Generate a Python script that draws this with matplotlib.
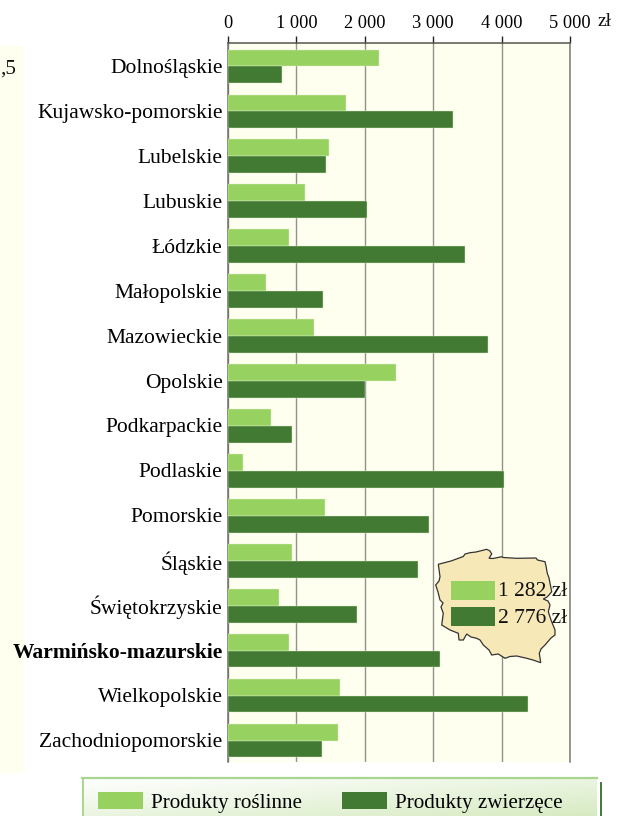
import numpy as np
import matplotlib
matplotlib.use("Agg")
import matplotlib.pyplot as plt
from matplotlib.patches import Polygon, Rectangle

W, H = 621, 816
plt.rcParams['font.family'] = ['Liberation Serif', 'DejaVu Serif']

regions = ["Dolnośląskie", "Kujawsko-pomorskie", "Lubelskie", "Lubuskie", "Łódzkie",
           "Małopolskie", "Mazowieckie", "Opolskie", "Podkarpackie", "Podlaskie",
           "Pomorskie", "Śląskie", "Świętokrzyskie", "Warmińsko-mazurskie",
           "Wielkopolskie", "Zachodniopomorskie"]
plant = [2207, 1725, 1477, 1126, 892, 556, 1257, 2456, 629, 219, 1418, 936, 746, 892, 1637, 1608]
animal = [790, 3290, 1433, 2032, 3465, 1389, 3801, 2003, 936, 4035, 2939, 2778, 1886, 3099, 4386, 1374]
x_ticks = [0, 1000, 2000, 3000, 4000, 5000]
x_ticklabels = ["0", "1 000", "2 000", "3 000", "4 000", "5 000"]
series_names = ["Produkty roślinne", "Produkty zwierzęce"]
poland_avg = ["1 282 zł", "2 776 zł"]
# outline of the decorative map, in reference pixels
map_x = [438.3, 451, 463.3, 465, 470, 476, 486.7, 490, 491.7, 489, 493, 501.7, 503, 516.7, 536, 537.5,
         545, 546, 547.3, 549, 551.7, 549, 547, 543.3, 548, 550, 548.3, 551, 555, 555, 551, 545, 541,
         539.3, 540.7, 533, 526.7, 516.7, 510, 505, 503, 498.3, 491.7, 489, 483.3, 480, 476.7, 471,
         466.7, 463.3, 459, 458.3, 450, 441.7, 443.3, 441, 443, 440, 438, 435.7, 439, 440]
map_y = [564.3, 561, 556.5, 554, 552.7, 552, 549.3, 551, 554, 558.3, 558.5, 556.7, 557.5, 558.3, 558, 560,
         561.7, 566, 573.3, 578, 591.7, 595, 597, 599, 601, 605, 611.7, 620, 630, 635, 638, 645, 649,
         653.3, 662.7, 660, 658.3, 656, 656.5, 658.3, 657, 654, 655, 650, 645, 640, 638.3, 637,
         634, 640, 640, 633.3, 630, 625, 613.3, 607, 603, 600, 592, 585, 581, 576.7]

GREEN, DARK, CREAM = "#97d160", "#427a33", "#fffff0"

fig = plt.figure(figsize=(W / 100, H / 100), dpi=100, facecolor="white")

# page decoration layer underneath
bg = fig.add_axes([0, 0, 1, 1], zorder=0)
bg.set_xlim(0, W); bg.set_ylim(H, 0); bg.axis("off")
bg.add_patch(Rectangle((0, 46), 24, 727, fc=CREAM, ec="none"))
bg.text(0, 69, ",5", fontsize=15, va="center", ha="left", color="#111111")
# legend panel with gradient
gx, gy = np.meshgrid(np.linspace(0, 1, 200), np.linspace(0, 1, 40))
g = (gx + gy) / 2
c0, c1 = np.array([1, 1, 1.0]), np.array([0.84, 0.92, 0.76])
bg.imshow(c0 + (c1 - c0) * g[..., None], extent=(83, 597, 816, 779), aspect="auto", zorder=1)
bg.set_xlim(0, W); bg.set_ylim(H, 0)
bg.plot([82, 597], [778, 778], color="#a8d690", lw=1.6, zorder=2)
bg.plot([82.5, 82.5], [778, 816], color="#a8d690", lw=1.4, zorder=2)
bg.plot([601, 601], [783, 816], color="#427a33", lw=1.4, zorder=2)

# main chart
ax = fig.add_axes([228 / W, 1 - 762 / H, (570 - 228) / W, (762 - 43) / H], zorder=1)
ax.set_facecolor(CREAM)
y = np.arange(len(regions))
h = 0.375
b1 = ax.barh(y - h / 2, plant, h, color=GREEN, edgecolor="#e4f3cf", linewidth=0.3, zorder=3)
b2 = ax.barh(y + h / 2, animal, h, color=DARK, edgecolor="#dfeeca", linewidth=0.3, zorder=3)
ax.set_xlim(0, 5000)
ax.set_ylim(len(regions) - 0.522, -0.522)
ax.xaxis.tick_top()
ax.set_xticks(x_ticks, x_ticklabels, fontsize=13.2)
ax.set_yticks(y, regions, fontsize=15.5)
ax.tick_params(axis="y", length=0, pad=6)
ax.tick_params(axis="x", length=5, width=1, color="#222222", pad=3)
ax.xaxis.grid(True, color="#92928a", lw=1.0, zorder=1)
ax.set_axisbelow(True)
ax.spines["bottom"].set_visible(False)
ax.spines["top"].set_color("#555550")
ax.spines["left"].set_color("#6e6e68")
ax.spines["right"].set_color("#7a7a74")
for s in ("top", "left", "right"):
    ax.spines[s].set_linewidth(1.1)
for lab in ax.get_yticklabels():
    if lab.get_text() == "Warmińsko-mazurskie":
        lab.set_fontweight("bold")
off = matplotlib.transforms.ScaledTranslation(3 / 100, 0.5 / 100, fig.dpi_scale_trans)
for lab in ax.get_yticklabels():
    lab.set_transform(lab.get_transform() + off)

# overlay
ov = fig.add_axes([0, 0, 1, 1], zorder=2)
ov.set_xlim(0, W); ov.set_ylim(H, 0); ov.axis("off"); ov.patch.set_alpha(0)
ov.add_patch(Polygon(np.column_stack([map_x, map_y]), closed=True, fc="#f7e8b8", ec="#333333", lw=0.9))
ov.add_patch(Rectangle((451, 581), 44, 19, fc=GREEN, ec="none"))
ov.add_patch(Rectangle((451, 607), 44, 19, fc=DARK, ec="none"))
ov.text(498, 592, poland_avg[0], fontsize=15.5, va="center", ha="left", color="#111111")
ov.text(498, 618.5, poland_avg[1], fontsize=15.5, va="center", ha="left", color="#111111")
ov.text(597, 21, "zł", fontsize=14, va="center", ha="left", color="#111111")

leg = fig.legend([b1, b2], series_names, loc="lower left",
                 bbox_to_anchor=(98 / W, 1 - 812.7 / H), bbox_transform=fig.transFigure,
                 ncol=2, frameon=False, fontsize=15.2, handlelength=2.15, handleheight=0.88,
                 handletextpad=0.38, columnspacing=1.87, borderpad=0, borderaxespad=0)
for p, col in zip(leg.get_patches(), (GREEN, DARK)):
    p.set_edgecolor("none"); p.set_facecolor(col)

fig.savefig("out.png", dpi=100)
